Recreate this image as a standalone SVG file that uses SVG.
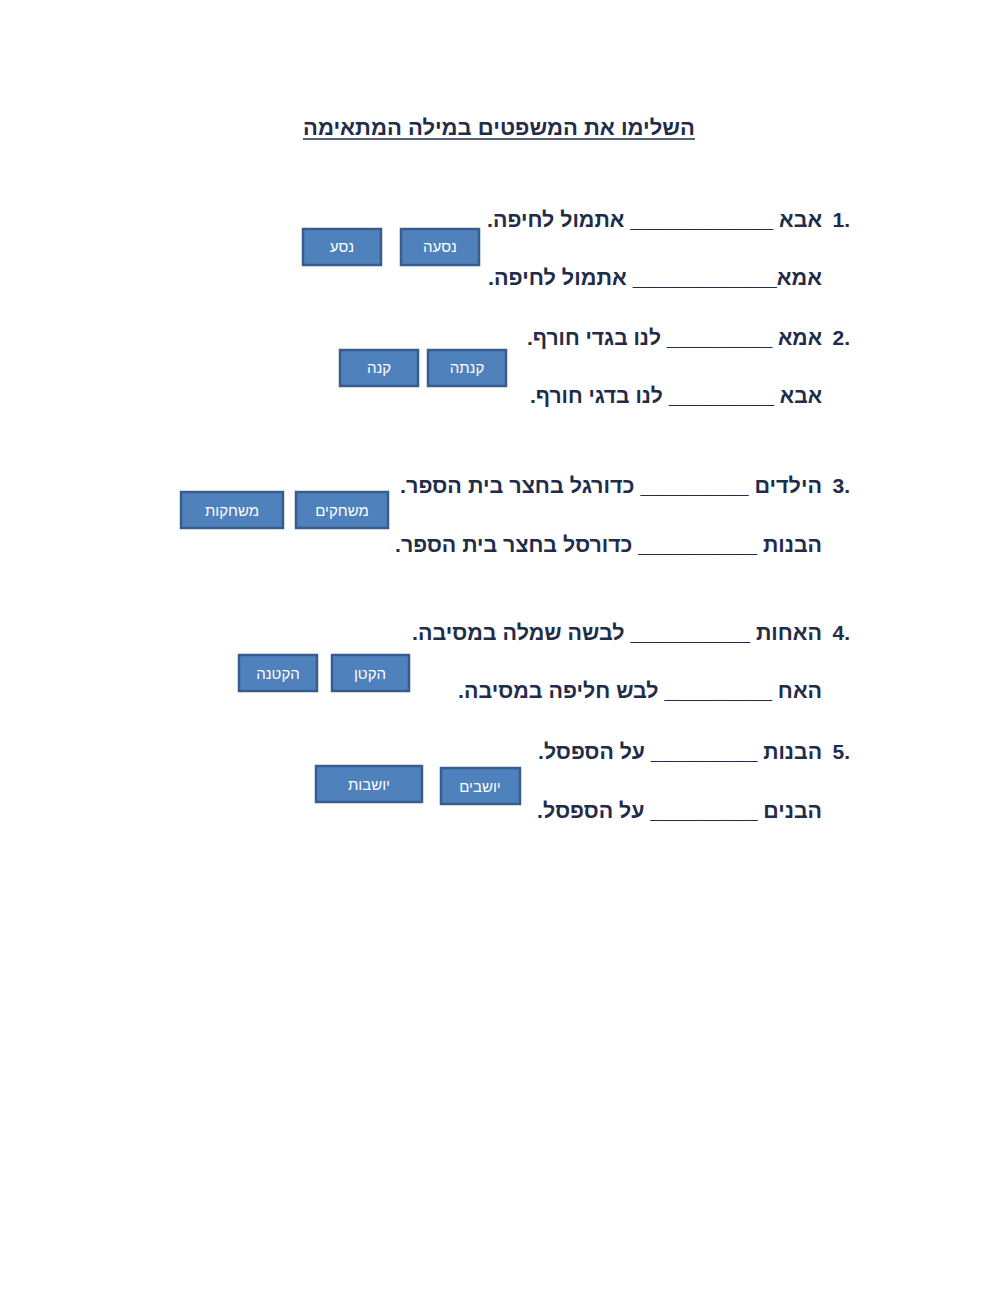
<svg xmlns="http://www.w3.org/2000/svg" width="1000" height="1291" viewBox="0 0 1000 1291">
<style>
.t{font-family:"Liberation Sans","DejaVu Sans",sans-serif;font-weight:bold;font-size:21px;fill:#1f2d4a;direction:rtl}
.n{font-family:"Liberation Sans","DejaVu Sans",sans-serif;font-weight:bold;font-size:21px;fill:#1f2d4a}
.b rect{fill:#4f81bd;stroke:#385d8a;stroke-width:2.5}
.b text{font-family:"Liberation Sans","DejaVu Sans",sans-serif;font-size:15px;fill:#fff;text-anchor:middle;direction:rtl}
</style>
<rect width="1000" height="1291" fill="#fff"/>
<g id="title">
<text class="t" x="695" y="135" textLength="392" lengthAdjust="spacingAndGlyphs">השלימו את המשפטים במילה המתאימה</text>
<line x1="303" y1="139" x2="695" y2="139" stroke="#1f2d4a" stroke-width="1.5"/>
</g>
<g id="sentences">
<text class="n" x="850" y="227" text-anchor="end">1.</text>
<text class="t" x="822" y="227" textLength="335" lengthAdjust="spacingAndGlyphs">אבא ____________ אתמול לחיפה.</text>
<text class="t" x="822" y="285" textLength="334" lengthAdjust="spacingAndGlyphs">אמא____________ אתמול לחיפה.</text>
<text class="n" x="850" y="345" text-anchor="end">2.</text>
<text class="t" x="822" y="345" textLength="295" lengthAdjust="spacingAndGlyphs">אמא _________ לנו בגדי חורף.</text>
<text class="t" x="822" y="403" textLength="292" lengthAdjust="spacingAndGlyphs">אבא _________ לנו בדגי חורף.</text>
<text class="n" x="850" y="493" text-anchor="end">3.</text>
<text class="t" x="822" y="493" textLength="422" lengthAdjust="spacingAndGlyphs">הילדים _________ כדורגל בחצר בית הספר.</text>
<text class="t" x="822" y="552" textLength="427" lengthAdjust="spacingAndGlyphs">הבנות __________ כדורסל בחצר בית הספר.</text>
<text class="n" x="850" y="640" text-anchor="end">4.</text>
<text class="t" x="822" y="640" textLength="410" lengthAdjust="spacingAndGlyphs">האחות __________ לבשה שמלה במסיבה.</text>
<text class="t" x="822" y="698" textLength="364" lengthAdjust="spacingAndGlyphs">האח _________ לבש חליפה במסיבה.</text>
<text class="n" x="850" y="759" text-anchor="end">5.</text>
<text class="t" x="822" y="759" textLength="284" lengthAdjust="spacingAndGlyphs">הבנות _________ על הספסל.</text>
<text class="t" x="822" y="818" textLength="285" lengthAdjust="spacingAndGlyphs">הבנים _________ על הספסל.</text>
</g>
<g id="box-nasaa" class="b"><rect x="401" y="229" width="78" height="36"/><text x="440" y="252">נסעה</text></g>
<g id="box-nasa" class="b"><rect x="303" y="229" width="78" height="36"/><text x="342" y="252">נסע</text></g>
<g id="box-kanta" class="b"><rect x="428" y="350" width="78" height="36"/><text x="467" y="373">קנתה</text></g>
<g id="box-kana" class="b"><rect x="340" y="350" width="78" height="36"/><text x="379" y="373">קנה</text></g>
<g id="box-mesachakim" class="b"><rect x="296" y="492" width="92" height="36"/><text x="342" y="516">משחקים</text></g>
<g id="box-mesachakot" class="b"><rect x="181" y="492" width="102" height="36"/><text x="232" y="516">משחקות</text></g>
<g id="box-hakatan" class="b"><rect x="332" y="655" width="77" height="36"/><text x="370" y="679">הקטן</text></g>
<g id="box-haktana" class="b"><rect x="239" y="655" width="78" height="36"/><text x="278" y="679">הקטנה</text></g>
<g id="box-yoshvim" class="b"><rect x="441" y="768" width="79" height="36"/><text x="480" y="792">יושבים</text></g>
<g id="box-yoshvot" class="b"><rect x="316" y="766" width="106" height="36"/><text x="369" y="790">יושבות</text></g>
<g id="connectors"/>
</svg>
